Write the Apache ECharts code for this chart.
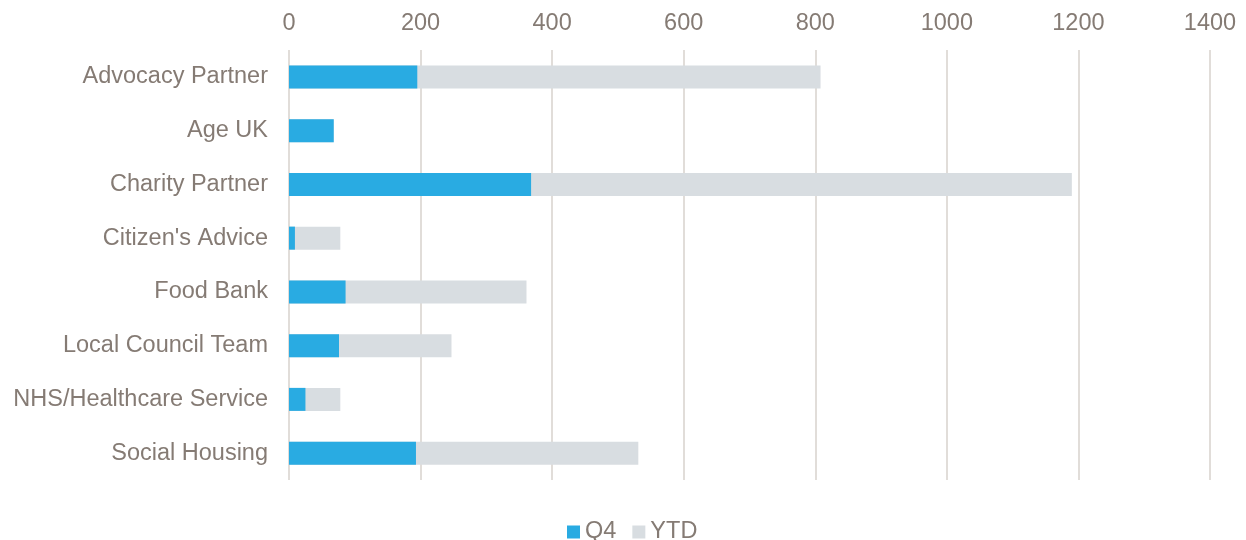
<!DOCTYPE html>
<html>
<head>
<meta charset="utf-8">
<script src="https://cdn.jsdelivr.net/npm/echarts@6/dist/echarts.min.js"></script>
<style>
html,body{margin:0;padding:0;background:#fff;}
#chart{width:1246px;height:540px;}
</style>
</head>
<body>
<div id="chart"></div>
<script>
const categories = ["Advocacy Partner","Age UK","Charity Partner","Citizen's Advice","Food Bank","Local Council Team","NHS/Healthcare Service","Social Housing"];
const q4Values = [195, 68, 368, 9, 86, 76, 25, 193];
const ytdValues = [808, 68, 1190, 78, 361, 247, 78, 531];
const xTicks = {min: 0, max: 1400, interval: 200};

const textColor = '#857b74';
const font = 'Liberation Sans, Arial, sans-serif';
const chart = echarts.init(document.getElementById('chart'), null, {renderer: 'canvas'});
chart.setOption({
  animation: false,
  textStyle: {fontFamily: font},
  grid: {left: 289, right: 36, top: 50, bottom: 60, containLabel: false},
  legend: {
    top: 515, left: 562,
    data: ['Q4', 'YTD'],
    icon: 'rect', itemWidth: 13, itemHeight: 13, itemGap: 16,
    textStyle: {color: textColor, fontSize: 23.5, fontFamily: font}
  },
  xAxis: {
    type: 'value', position: 'top',
    min: xTicks.min, max: xTicks.max, interval: xTicks.interval,
    axisLine: {show: false}, axisTick: {show: false},
    axisLabel: {color: textColor, fontSize: 23.5, margin: 14, formatter: v => String(v)},
    splitLine: {show: true, lineStyle: {color: '#e1ddd9', width: 2}}
  },
  yAxis: {
    type: 'category', data: categories, inverse: true,
    axisLine: {show: false}, axisTick: {show: false},
    axisLabel: {color: textColor, fontSize: 23.5, margin: 21}
  },
  series: [
    {name: 'YTD', type: 'bar', data: ytdValues, barWidth: 23, barGap: '-100%', z: 1,
     itemStyle: {color: '#d8dde1'}},
    {name: 'Q4', type: 'bar', data: q4Values, barWidth: 23, z: 2,
     itemStyle: {color: '#29abe2'}}
  ]
});
</script>
</body>
</html>
